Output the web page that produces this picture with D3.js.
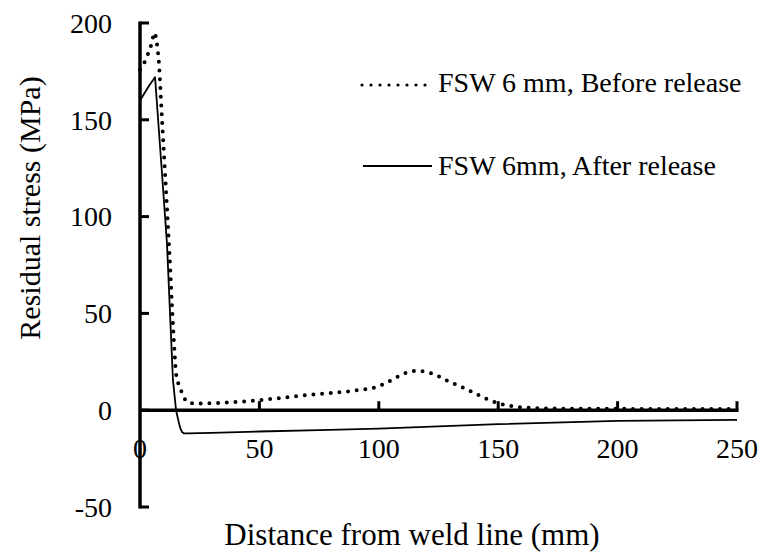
<!DOCTYPE html>
<html>
<head>
<meta charset="utf-8">
<script src="https://cdn.jsdelivr.net/npm/d3@7"></script>
<style>
  body { margin: 0; background: #fff; }
</style>
</head>
<body>
<div id="chart"></div>
<script>
// before release (dotted)
var beforeX = [0, 1, 2, 3, 4, 5, 6, 7, 8, 9, 10, 12.2, 14, 15.1, 16, 17.6, 20, 24, 30, 50, 70, 90,
  100, 106, 112, 116, 123, 129, 136, 142, 149, 156, 163, 175, 200, 225, 250];
var beforeY = [176, 178, 180, 183, 186, 190, 195, 190, 178, 155, 133, 84, 40, 19, 14, 9, 4, 3.5, 3.6, 5.2, 7.8, 10.2,
  12.4, 16, 19.6, 20.3, 18.6, 15, 11.3, 7.7, 4, 2, 1.2, 0.8, 0.7, 0.6, 0.6];

// after release (solid)
var afterX = [0, 2, 4, 6.3, 9, 11.3, 13.8, 15.1, 16, 16.8, 17.6, 18.5, 20, 30, 50, 75, 100, 150, 200, 250];
var afterY = [160, 164, 168, 172, 126, 86, 15.5, 0, -5, -9, -11.3, -12, -12, -11.7, -11, -10.3, -9.5, -7.2, -5.5, -5];

var xTicks = [0, 50, 100, 150, 200, 250];
var yTicks = [-50, 0, 50, 100, 150, 200];
var legendNames = ["FSW 6 mm, Before release", "FSW 6mm, After release"];

var width = 767;
var height = 554;
var serif = "'Liberation Serif'";

var svg = d3.select("#chart")
    .append("svg")
    .attr("width", width)
    .attr("height", height);

var x = d3.scaleLinear().domain([0, 250]).range([140, 737]);
var y = d3.scaleLinear().domain([-50, 200]).range([507, 23]);

// y axis, ticks pointing right
svg.append("line")
    .attr("x1", x(0)).attr("x2", x(0))
    .attr("y1", y(200) - 1.5).attr("y2", y(-50) + 1.5)
    .attr("stroke", "#000")
    .attr("stroke-width", 3.5);

svg.selectAll(".ytick")
    .data(yTicks)
    .enter()
    .append("line")
    .attr("class", "ytick")
    .attr("x1", x(0)).attr("x2", x(0) + 9)
    .attr("y1", function(d) { return y(d); })
    .attr("y2", function(d) { return y(d); })
    .attr("stroke", "#000")
    .attr("stroke-width", 3);

svg.selectAll(".ylabel")
    .data(yTicks)
    .enter()
    .append("text")
    .attr("class", "ylabel")
    .attr("x", 112)
    .attr("y", function(d) { return y(d); })
    .attr("dy", "0.35em")
    .attr("text-anchor", "end")
    .style("font-family", serif)
    .style("font-size", "28px")
    .text(function(d) { return d; });

// x axis at zero, ticks pointing up
svg.append("line")
    .attr("x1", x(0)).attr("x2", x(250) + 1.5)
    .attr("y1", y(0)).attr("y2", y(0))
    .attr("stroke", "#000")
    .attr("stroke-width", 3.5);

svg.selectAll(".xtick")
    .data(xTicks.slice(1))
    .enter()
    .append("line")
    .attr("class", "xtick")
    .attr("x1", function(d) { return x(d); })
    .attr("x2", function(d) { return x(d); })
    .attr("y1", y(0)).attr("y2", y(0) - 9)
    .attr("stroke", "#000")
    .attr("stroke-width", 3);

svg.selectAll(".xlabel")
    .data(xTicks)
    .enter()
    .append("text")
    .attr("class", "xlabel")
    .attr("x", function(d) { return x(d); })
    .attr("y", 458)
    .attr("text-anchor", "middle")
    .style("font-family", serif)
    .style("font-size", "28px")
    .text(function(d) { return d; });

// axis titles
svg.append("text")
    .attr("x", 412)
    .attr("y", 545)
    .attr("text-anchor", "middle")
    .style("font-family", serif)
    .style("font-size", "31px")
    .text("Distance from weld line (mm)");

svg.append("text")
    .attr("transform", "translate(40, 208) rotate(-90)")
    .attr("text-anchor", "middle")
    .style("font-family", serif)
    .style("font-size", "30px")
    .text("Residual stress (MPa)");

// series
var before = beforeX.map(function(d, i) { return [d, beforeY[i]]; });
var after = afterX.map(function(d, i) { return [d, afterY[i]]; });

var smooth = d3.line()
    .x(function(d) { return x(d[0]); })
    .y(function(d) { return y(d[1]); })
    .curve(d3.curveMonotoneX);

var straight = d3.line()
    .x(function(d) { return x(d[0]); })
    .y(function(d) { return y(d[1]); })
    .curve(d3.curveLinear);

svg.append("path")
    .attr("d", straight(after))
    .attr("fill", "none")
    .attr("stroke", "#000")
    .attr("stroke-width", 1.8)
    .attr("stroke-linejoin", "round");

svg.append("path")
    .attr("d", smooth(before))
    .attr("fill", "none")
    .attr("stroke", "#000")
    .attr("stroke-width", 4)
    .attr("stroke-linecap", "round")
    .attr("stroke-dasharray", "0,8.7");

// legend
var legend = svg.append("g").attr("class", "legend");

legend.append("line")
    .attr("x1", 362).attr("x2", 426)
    .attr("y1", 85).attr("y2", 85)
    .attr("stroke", "#000")
    .attr("stroke-width", 3.2)
    .attr("stroke-linecap", "round")
    .attr("stroke-dasharray", "0,9");

legend.append("line")
    .attr("x1", 363).attr("x2", 432)
    .attr("y1", 166).attr("y2", 166)
    .attr("stroke", "#000")
    .attr("stroke-width", 1.8);

legend.selectAll(".ltext")
    .data(legendNames)
    .enter()
    .append("text")
    .attr("class", "ltext")
    .attr("x", 438)
    .attr("y", function(d, i) { return i == 0 ? 92 : 175; })
    .style("font-family", serif)
    .style("font-size", "28px")
    .text(function(d) { return d; });
</script>
</body>
</html>
